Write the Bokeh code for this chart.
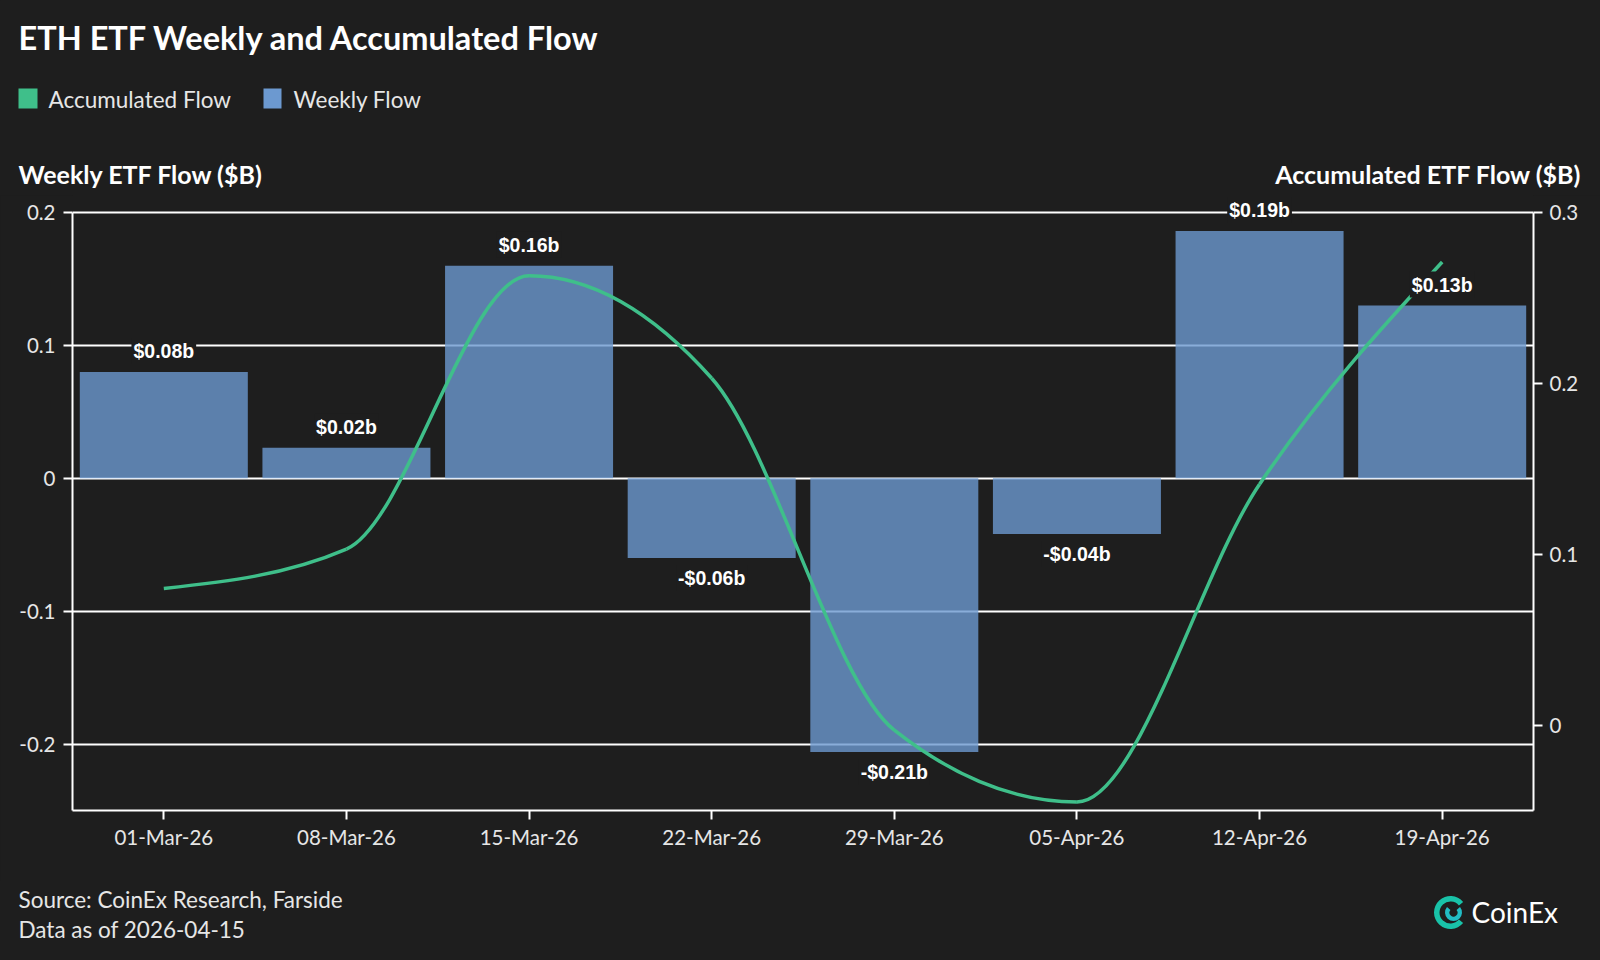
import numpy as np
from bokeh.plotting import figure
from bokeh.layouts import column
from bokeh.models import Range1d, LinearAxis, FixedTicker, ColumnDataSource
from bokeh.core.properties import value
from bokeh.embed import file_html
from bokeh.resources import INLINE

# ---- data -------------------------------------------------------------
weeks = ["01-Mar-26", "08-Mar-26", "15-Mar-26", "22-Mar-26",
         "29-Mar-26", "05-Apr-26", "12-Apr-26", "19-Apr-26"]
weekly_flow = [0.08, 0.023, 0.16, -0.06, -0.206, -0.042, 0.186, 0.13]
accumulated_flow = [0.08, 0.103, 0.263, 0.203, -0.003, -0.045, 0.141, 0.271]
left_ticks = [-0.2, -0.1, 0.0, 0.1, 0.2]
left_tick_labels = ["-0.2", "-0.1", "0", "0.1", "0.2"]
right_ticks = [0.0, 0.1, 0.2, 0.3]
right_tick_labels = ["0", "0.1", "0.2", "0.3"]

# ---- style ------------------------------------------------------------
BG = "#1e1e1e"
GREEN = "#3fbf8a"
BLUE = "#6c99d0"
WHITE = "#ffffff"
TEXT = "#e6e6e6"
FONT = "Lato"

W = 1600
HEAD_H, MAIN_H, FOOT_H = 195, 685, 80
FL, FR = 72, 1533            # frame left / right edge
CHART_TOP, FB = 212, 810     # y of the 0.2 / 0.3 line and of the x axis (page px)

def panel(height):
    """A blank strip whose data units are page pixels (y grows downwards)."""
    f = figure(width=W, height=height, output_backend="svg", toolbar_location=None,
               x_range=Range1d(0, W), y_range=Range1d(height, 0),
               x_axis_location=None, y_axis_location=None,
               min_border=0, background_fill_color=BG, border_fill_color=BG,
               outline_line_color=None, frame_align=False)
    f.xgrid.visible = False
    f.ygrid.visible = False
    return f

def put(f, text, x, y, size, bold=False, color=TEXT, align="left"):
    f.text(x=[x], y=[y], text=[text], text_font=value(FONT), text_font_size=size,
           text_font_style="bold" if bold else "normal", text_color=color,
           text_align=align, text_baseline="alphabetic")

# ---- header: title, legend, axis titles ------------------------------
head = panel(HEAD_H)
put(head, "ETH ETF Weekly and Accumulated Flow", 18, 37, "32.5px", bold=True, color=WHITE)
head.quad(left=[18], right=[37], top=[88], bottom=[108], fill_color=GREEN, line_color=None)
put(head, "Accumulated Flow", 48, 99, "22.5px")
head.quad(left=[263], right=[281], top=[88], bottom=[108], fill_color=BLUE, line_color=None)
put(head, "Weekly Flow", 293, 99, "22.5px")
put(head, "Weekly ETF Flow ($B)", 18, 173, "25px", bold=True, color=WHITE)
put(head, "Accumulated ETF Flow ($B)", 1581, 173, "25px", bold=True, color=WHITE, align="right")

# ---- main chart -------------------------------------------------------
frame_px = FB - CHART_TOP                 # pixels between 0.2 and -0.25
extra = CHART_TOP - HEAD_H                # headroom above the top gridline
l_lo, l_hi = -0.25, 0.2
r_lo, r_hi = -0.05, 0.3
l_pad = (l_hi - l_lo) / frame_px * extra
r_pad = (r_hi - r_lo) / frame_px * extra

p = figure(width=W, height=MAIN_H, output_backend="svg", toolbar_location=None,
           x_range=Range1d(-0.5, len(weeks) - 0.5), y_range=Range1d(l_lo, l_hi + l_pad),
           min_border_left=FL, min_border_right=W - FR,
           min_border_top=0, min_border_bottom=HEAD_H + MAIN_H - FB,
           background_fill_color=BG, border_fill_color=BG, outline_line_color=None,
           frame_align=False)
p.extra_y_ranges = {"acc": Range1d(r_lo, r_hi + r_pad)}

def style_axis(ax):
    ax.axis_line_color = WHITE
    ax.axis_line_width = 2
    ax.major_tick_line_color = WHITE
    ax.major_tick_line_width = 2
    ax.major_tick_out = 9
    ax.major_tick_in = 0
    ax.minor_tick_line_color = None
    ax.major_label_text_color = TEXT
    ax.major_label_text_font = FONT
    ax.major_label_text_font_size = "20.5px"

xi = list(range(len(weeks)))
p.xaxis.ticker = FixedTicker(ticks=xi, minor_ticks=[])
p.xaxis.major_label_overrides = {i: w for i, w in zip(xi, weeks)}
style_axis(p.xaxis[0])
p.xaxis.major_label_standoff = 5

p.yaxis.ticker = FixedTicker(ticks=left_ticks, minor_ticks=[])
p.yaxis.major_label_overrides = {t: s for t, s in zip(left_ticks, left_tick_labels)}
p.yaxis.bounds = (l_lo, l_hi)
style_axis(p.yaxis[0])
p.yaxis.major_label_standoff = 8

right_axis = LinearAxis(y_range_name="acc", bounds=(r_lo, r_hi),
                        ticker=FixedTicker(ticks=right_ticks, minor_ticks=[]),
                        major_label_overrides={t: s for t, s in zip(right_ticks, right_tick_labels)})
style_axis(right_axis)
right_axis.major_label_standoff = 7
p.add_layout(right_axis, "right")

p.xgrid.grid_line_color = None
p.ygrid.ticker = FixedTicker(ticks=left_ticks, minor_ticks=[])
p.ygrid.grid_line_color = WHITE
p.ygrid.grid_line_width = 2

# weekly bars
labels = [("-" if v < 0 else "") + "$%.2fb" % abs(v) for v in weekly_flow]
offsets = [20 if v < 0 else -21 for v in weekly_flow]
src = ColumnDataSource(dict(x=xi, top=weekly_flow, label=labels, yoff=offsets))
p.vbar(x="x", top="top", bottom=0, width=0.92, source=src,
       fill_color=BLUE, fill_alpha=0.8, line_color=None)

# accumulated flow: monotone cubic curve built from bezier segments
def monotone_tangents(xs, ys):
    n = len(xs)
    s = [(ys[i + 1] - ys[i]) / (xs[i + 1] - xs[i]) for i in range(n - 1)]
    t = [0.0] * n
    for i in range(1, n - 1):
        h0 = xs[i] - xs[i - 1]
        h1 = xs[i + 1] - xs[i]
        s0, s1 = s[i - 1], s[i]
        pm = (s0 * h1 + s1 * h0) / (h0 + h1)
        t[i] = (np.sign(s0) + np.sign(s1)) * min(abs(s0), abs(s1), 0.5 * abs(pm))
    t[0] = (3 * s[0] - t[1]) / 2
    t[-1] = (3 * s[-1] - t[-2]) / 2
    return t

tan = monotone_tangents(xi, accumulated_flow)
seg = dict(x0=[], y0=[], x1=[], y1=[], cx0=[], cy0=[], cx1=[], cy1=[])
for i in range(len(xi) - 1):
    dx = (xi[i + 1] - xi[i]) / 3
    seg["x0"].append(xi[i]); seg["y0"].append(accumulated_flow[i])
    seg["x1"].append(xi[i + 1]); seg["y1"].append(accumulated_flow[i + 1])
    seg["cx0"].append(xi[i] + dx); seg["cy0"].append(accumulated_flow[i] + dx * tan[i])
    seg["cx1"].append(xi[i + 1] - dx); seg["cy1"].append(accumulated_flow[i + 1] - dx * tan[i + 1])
p.bezier(x0="x0", y0="y0", x1="x1", y1="y1", cx0="cx0", cy0="cy0", cx1="cx1", cy1="cy1",
         source=ColumnDataSource(seg), line_color=GREEN, line_width=3.5,
         y_range_name="acc")

# value labels
p.text(x="x", y="top", text="label", source=src, y_offset="yoff",
       text_align="center", text_baseline="middle",
       text_font=value("Liberation Sans"), text_font_style="bold",
       text_font_size="19.5px", text_color=WHITE,
       background_fill_color=BG, padding=2)

# ---- footer: source note and logo ------------------------------------
foot = panel(FOOT_H)
top0 = HEAD_H + MAIN_H
put(foot, "Source: CoinEx Research, Farside", 18, 899 - top0, "22.5px")
put(foot, "Data as of 2026-04-15", 18, 929 - top0, "22.5px")
put(foot, "CoinEx", 1471, 911 - top0, "28px", color=WHITE)
cy = 912 - top0
foot.annular_wedge(x=[1450], y=[cy], inner_radius=11, outer_radius=16.5,
                   start_angle=np.radians(40), end_angle=np.radians(320),
                   fill_color="#19c2a8", line_color=None)
foot.annular_wedge(x=[1453], y=[cy], inner_radius=4, outer_radius=8.5,
                   start_angle=np.radians(-220), end_angle=np.radians(40),
                   fill_color="#22bcc4", line_color=None)

layout = column(head, p, foot, spacing=0)
html = file_html(layout, INLINE)
html = html.replace("</head>", "<style>html,body{margin:0;padding:0;background:%s;}</style></head>" % BG, 1)
open("out.html", "w").write(html)
